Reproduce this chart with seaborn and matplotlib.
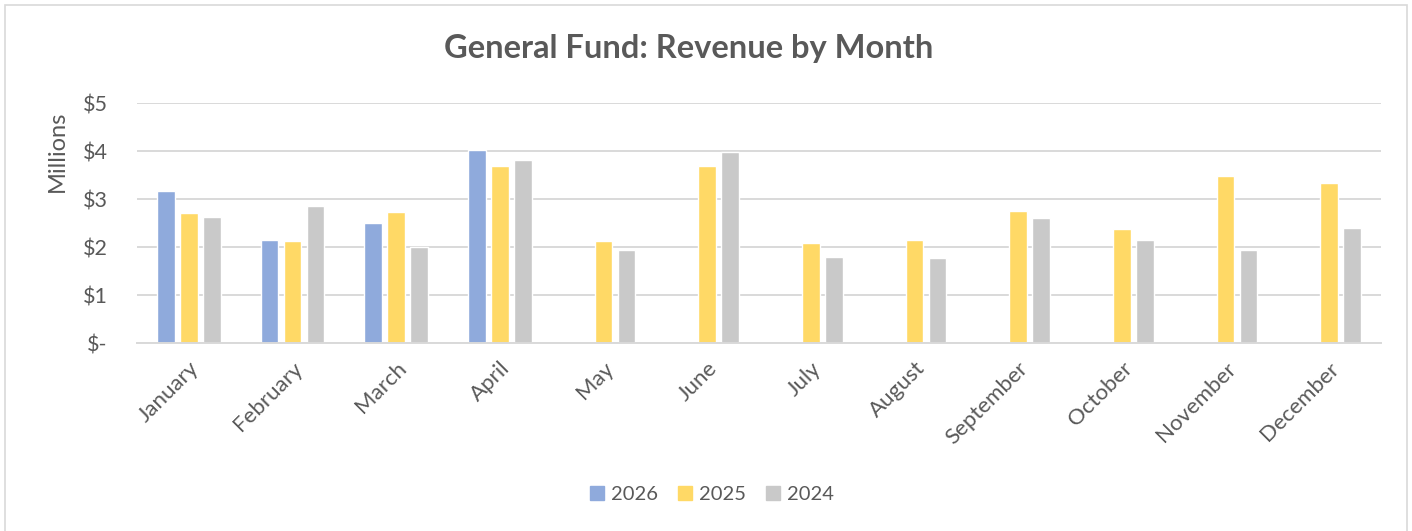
import matplotlib
matplotlib.use("Agg")
import matplotlib.pyplot as plt
import seaborn as sns
import numpy as np
import pandas as pd
from matplotlib.lines import Line2D

months = ["January", "February", "March", "April", "May", "June", "July",
          "August", "September", "October", "November", "December"]
rev_2026 = [3.17, 2.14, 2.51, 4.02, np.nan, np.nan, np.nan, np.nan, np.nan, np.nan, np.nan, np.nan]
rev_2025 = [2.71, 2.13, 2.73, 3.68, 2.13, 3.69, 2.08, 2.15, 2.75, 2.38, 3.48, 3.33]
rev_2024 = [2.62, 2.85, 1.99, 3.82, 1.93, 3.97, 1.79, 1.77, 2.60, 2.14, 1.93, 2.40]
years = ["2026", "2025", "2024"]
colors = ["#8FAADC", "#FFD966", "#C9C9C9"]
ytick_vals = [0, 1, 2, 3, 4, 5]
ytick_labels = ["$-", "$1", "$2", "$3", "$4", "$5"]

rows = []
for yr, vals in zip(years, [rev_2026, rev_2025, rev_2024]):
    for m, v in zip(months, vals):
        rows.append({"Month": m, "Year": yr, "Revenue": v})
df = pd.DataFrame(rows)

sns.set_theme(style="white")
plt.rcParams["font.family"] = ["Lato", "DejaVu Sans"]
TXT = "#595959"
GRID = "#D9D9D9"

fig = plt.figure(figsize=(14.12, 5.31), dpi=100)
W, H = 1412, 531
ax = fig.add_axes([137 / W, 1 - 343 / H, (1381 - 137) / W, (343 - 103) / H])

sns.barplot(data=df, x="Month", y="Revenue", hue="Year", hue_order=years,
            order=months, palette=colors, saturation=1, width=0.666, gap=0.22,
            errorbar=None, ax=ax, legend=False)

ax.set_ylim(0, 5)
ax.set_xlim(-0.5, 11.5)
ax.set_yticks(ytick_vals)
ax.set_yticklabels(ytick_labels)
ax.yaxis.grid(True, color=GRID, linewidth=1.4)
ax.set_axisbelow(True)
for s in ["top", "right", "left"]:
    ax.spines[s].set_visible(False)
ax.spines["bottom"].set_color(GRID)
ax.spines["bottom"].set_linewidth(1.4)
ax.tick_params(axis="y", length=0, pad=21, labelsize=15.5, labelcolor=TXT)
ax.tick_params(axis="x", length=0, pad=11, labelsize=16, labelcolor=TXT)
ax.set_xticks(range(len(months)))
ax.set_xticklabels(months, rotation=45, ha="right", va="top", rotation_mode="anchor")
ax.set_xlabel("")
ax.set_ylabel("")

fig.text(57 / W, 1 - 151 / H, "Millions", rotation=90, ha="center", va="center",
         fontsize=17, color=TXT)
fig.text(689 / W, 1 - 48 / H, "General Fund: Revenue by Month", ha="center",
         va="center", fontsize=23.5, fontweight="bold", color=TXT)

handles = [Line2D([], [], marker="s", linestyle="none", markersize=10,
                  markerfacecolor=c, markeredgecolor=c) for c in colors]
fig.legend(handles, years, loc="center", bbox_to_anchor=(712 / W, 1 - 494 / H),
           ncol=3, frameon=False, fontsize=14.5, labelcolor=TXT,
           handlelength=0.7, handletextpad=0.35, columnspacing=1.0)

# outer chart border
border = plt.Rectangle((5 / W, -0.01), (1407 - 5) / W, (H - 4) / H + 0.01 - 0.001,
                       transform=fig.transFigure, fill=False,
                       edgecolor=GRID, linewidth=1.2)
fig.patches.append(border)

fig.savefig("out.png", dpi=100, facecolor="white")
